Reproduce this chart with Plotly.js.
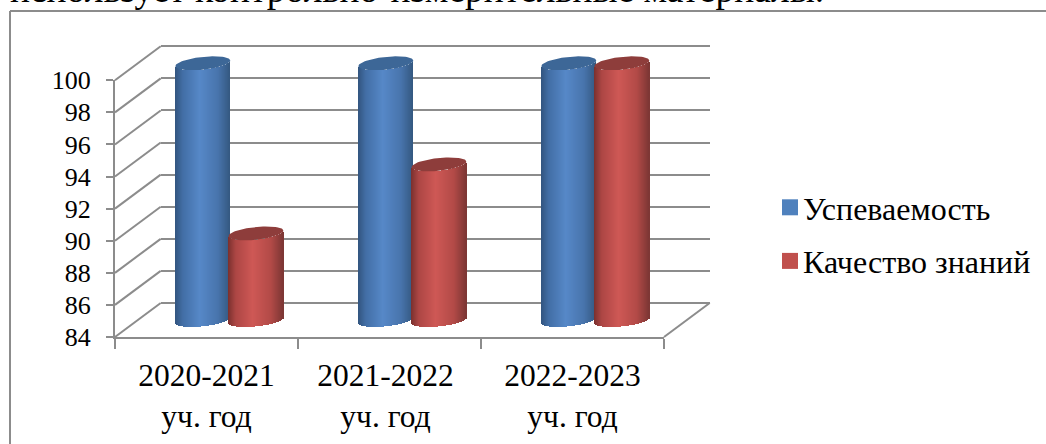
<!DOCTYPE html>
<html><head><meta charset="utf-8">
<script src="https://cdn.plot.ly/plotly-3.0.1.min.js"></script>
<style>html,body{margin:0;padding:0;background:#fff}</style></head>
<body><div id="c" style="width:1046px;height:444px"></div>
<script>
const categories = ["2020-2021<br>уч. год", "2021-2022<br>уч. год", "2022-2023<br>уч. год"];
const seriesA = "Успеваемость";
const seriesB = "Качество знаний";
const valuesA = [100, 100, 100];
const valuesB = [89.4, 93.7, 100];
const yTicks = [84, 86, 88, 90, 92, 94, 96, 98, 100];
const pageText = "использует контрольно-измерительные материалы.";

const W = 1046, H = 444, SERIF = '"Liberation Serif","Times New Roman",serif';
const GRID = "#8c8c8c";
const F = {l:115, r:664, t:80.3, b:337}, DX = 45.7, DY = 34;
const ppu = (F.b - F.t) / (yTicks[yTicks.length-1] - yTicks[0]);
const domX = (a,b) => [a/W, b/W];
const domY = (t,b) => [1-b/H, 1-t/H];
const cy = -DY/2;
const cylAxisX = {domain: domX(F.l+DX/2, F.r+DX/2), range:[0,3], visible:false, fixedrange:true};
const cylAxisY = {domain: domY(F.t+cy-ppu, F.b+cy+ppu), range:[83,101], visible:false, fixedrange:true};

const halfW = 0.15, groupShift = 0.145, TILT = 2.75, SAG = 6.4, N = 55;
const lower = t => (TILT*t - SAG*Math.sqrt(Math.max(0,1-t*t))) / ppu;
const upper = t => (TILT*t + SAG*Math.sqrt(Math.max(0,1-t*t))) / ppu;
function mix(stops, u){
  for(let i=1;i<stops.length;i++){
    if(u<=stops[i][0]){
      const a=stops[i-1], b=stops[i], k=(u-a[0])/(b[0]-a[0]);
      return "rgb("+[0,1,2].map(j=>Math.round(a[1][j]+(b[1][j]-a[1][j])*k)).join(",")+")";
    }
  }
  const l=stops[stops.length-1][1]; return "rgb("+l.join(",")+")";
}
const blueStops=[[0,[50,84,126]],[0.14,[66,110,165]],[0.45,[86,136,200]],[0.78,[72,116,172]],[1,[52,88,128]]];
const redStops =[[0,[122,48,46]],[0.14,[172,70,68]],[0.45,[206,88,85]],[0.78,[178,74,71]],[1,[124,54,52]]];

function cylinders(values, offset, stops, capColor, xa, ya){
  const xs=[],base=[],h=[],col=[];
  values.forEach((v,i)=>{
    const c=i+0.5+offset;
    for(let k=0;k<N;k++){
      const u=(k+0.5)/N, t=2*u-1;
      xs.push(c+t*halfW); base.push(yTicks[0]+lower(t)); h.push(v-yTicks[0]); col.push(mix(stops,u));
    }
  });
  const out=[{type:"bar",x:xs,y:h,base:base,width:(2*halfW/N)*1.35,xaxis:xa,yaxis:ya,showlegend:false,hoverinfo:"skip",
    marker:{color:col,line:{width:0}}}];
  values.forEach((v,i)=>{
    const c=i+0.5+offset, px=[],py=[];
    for(let a=0;a<=72;a++){
      const t=Math.cos(a/72*2*Math.PI), up=a<=36;
      px.push(c+t*halfW); py.push(v+(up?upper(t):lower(t)));
    }
    out.push({type:"scatter",mode:"lines",x:px,y:py,fill:"toself",fillcolor:capColor,line:{width:0,color:capColor},
      xaxis:xa,yaxis:ya,showlegend:false,hoverinfo:"skip"});
  });
  return out;
}

const traces=[
  {type:"scatter",x:[0],y:[null],xaxis:"x",yaxis:"y",showlegend:false,hoverinfo:"skip"},
  ...cylinders(valuesA,-groupShift,blueStops,"#3d6797","x2","y2"),
  ...cylinders(valuesB, groupShift,redStops,"#8e3d3b","x3","y3"),
  {type:"scatter",mode:"markers",name:seriesA,legendgroup:"a",x:categories,y:[null,null,null],xaxis:"x4",yaxis:"y4",
    marker:{symbol:"square",size:16,color:"#4f81bd"}},
  {type:"scatter",mode:"markers",name:seriesB,legendgroup:"b",x:categories,y:[null,null,null],xaxis:"x4",yaxis:"y4",
    marker:{symbol:"square",size:16,color:"#c0504d"}}
];

const seg=(x0,y0,x1,y1)=>({type:"line",xref:"paper",yref:"paper",x0:x0/W,x1:x1/W,y0:1-y0/H,y1:1-y1/H,layer:"below",line:{color:GRID,width:2}});
const shapes=yTicks.map(v=>{const y=F.b-(v-yTicks[0])*ppu; return seg(F.l,y,F.l+DX,y-DY);});
shapes.push(seg(F.r,F.b,F.r+DX,F.b-DY));
shapes.push(seg(10,11,W,11), seg(10,11,10,H));

const layout={
  width:W,height:H,margin:{l:0,r:0,t:0,b:0},paper_bgcolor:"#fff",plot_bgcolor:"rgba(0,0,0,0)",
  barmode:"overlay",bargap:0,showlegend:true,
  font:{family:SERIF,color:"#000",size:26},
  xaxis:{domain:domX(F.l+DX,F.r+DX),range:[0,1],visible:false,fixedrange:true,anchor:"y"},
  yaxis:{domain:domY(F.t-DY-ppu,F.b-DY+ppu),range:[83,101],tickvals:yTicks,showgrid:true,gridcolor:GRID,gridwidth:2,
    showticklabels:false,ticks:"",zeroline:false,showline:false,anchor:"x",fixedrange:true},
  xaxis2:Object.assign({anchor:"y2"},cylAxisX), yaxis2:Object.assign({anchor:"x2"},cylAxisY),
  xaxis3:Object.assign({anchor:"y3"},cylAxisX), yaxis3:Object.assign({anchor:"x3"},cylAxisY),
  xaxis4:{domain:domX(F.l,F.r),type:"category",categoryorder:"array",categoryarray:categories,range:[-0.5,2.5],tickson:"boundaries",
    ticks:"outside",ticklen:10,tickwidth:2,tickcolor:GRID,showline:true,linecolor:GRID,linewidth:2,showgrid:false,
    tickfont:{family:SERIF,size:31.5,color:"#000"},anchor:"y4",tickangle:0,fixedrange:true,automargin:false,ticklabelstandoff:9},
  yaxis4:{domain:domY(F.t,F.b),range:[84,100],tickvals:yTicks,ticks:"outside",ticklen:7,tickwidth:2,tickcolor:GRID,
    showline:true,linecolor:GRID,linewidth:2,showgrid:false,zeroline:false,tickfont:{family:SERIF,size:26,color:"#000"},
    anchor:"x4",ticklabelstandoff:10,fixedrange:true,automargin:false},
  legend:{x:770/W,y:1-180/H,xanchor:"left",yanchor:"top",font:{family:SERIF,size:32,color:"#000"},
    traceorder:"grouped",tracegroupgap:9,bgcolor:"rgba(0,0,0,0)",borderwidth:0,itemwidth:30},
  shapes:shapes,
  annotations:[{xref:"paper",yref:"paper",x:9/W,y:1-11/H,xanchor:"left",yanchor:"bottom",showarrow:false,
    text:pageText,font:{family:SERIF,size:37.4,color:"#000"},borderpad:0}]
};
Plotly.newPlot("c",traces,layout,{staticPlot:true,displayModeBar:false}).then(()=>{
  document.querySelectorAll(".legendtext").forEach(t=>{t.setAttribute("x",parseFloat(t.getAttribute("x"))-7);});
  // the middle category label sits a little left of centre in the reference
  const mid=document.querySelectorAll(".x4tick text")[1];
  if(mid) mid.setAttribute("transform","translate(-4,0) "+(mid.getAttribute("transform")||""));
});
</script></body></html>
